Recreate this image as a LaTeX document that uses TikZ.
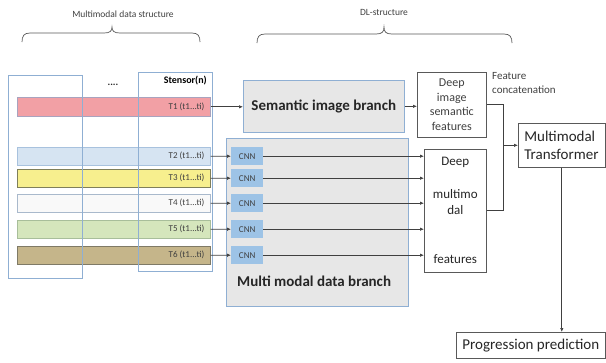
\documentclass[tikz,border=0pt]{standalone}
\usepackage{fontspec}
\setmainfont{Carlito}
\usetikzlibrary{arrows.meta}
\definecolor{txtgray}{HTML}{404040}
\definecolor{txtdark}{HTML}{262626}
\definecolor{colblue}{HTML}{8FAFD3}
\definecolor{boxgray}{HTML}{E7E7E7}
\definecolor{cnnblue}{HTML}{9DC3E6}
\definecolor{linegray}{HTML}{404040}
\definecolor{bracegray}{HTML}{595959}
\definecolor{boxdark}{HTML}{595959}
\definecolor{tafill}{HTML}{F2A0A5}\definecolor{tadraw}{HTML}{A9A3BE}
\definecolor{tbfill}{HTML}{D6E4F2}\definecolor{tbdraw}{HTML}{A8C2DE}
\definecolor{tcfill}{HTML}{F7EF8E}\definecolor{tcdraw}{HTML}{7F7F5A}
\definecolor{tdfill}{HTML}{F9F9F9}\definecolor{tddraw}{HTML}{A9B9CC}
\definecolor{tefill}{HTML}{D5E6BC}\definecolor{tedraw}{HTML}{A8BE9A}
\definecolor{tffill}{HTML}{C5B58A}\definecolor{tfdraw}{HTML}{7F7A66}
\begin{document}
\begin{tikzpicture}[x=1pt,y=-1pt,
  box/.style={draw, anchor=north west, inner sep=0pt, line width=0.6pt},
  bar/.style={box, minimum width=193pt, minimum height=18pt},
  colbox/.style={draw=colblue, anchor=north west, inner sep=0pt, line width=0.7pt, minimum width=74pt},
  cnnbox/.style={anchor=north west, fill=cnnblue, minimum width=32pt, minimum height=18pt, inner sep=0pt, font=\fontsize{9}{11}\selectfont, text=txtgray},
  arr/.style={-{Latex[length=4pt,width=3.5pt]}, draw=linegray, line width=0.7pt},
  plain/.style={draw=linegray, line width=0.7pt},
  tlabel/.style={anchor=east, font=\fontsize{9}{11}\selectfont, text=txtgray, inner sep=0pt},
  bracestyle/.style={draw=bracegray, line width=0.7pt},
  small/.style={font=\fontsize{9.5}{11}\selectfont, text=txtgray, inner sep=0pt}]
\useasboundingbox (0,0) rectangle (606,362);

% brace titles and braces
\node[small] (mdsl) at (123,14) {Multimodal data structure};
\node[small] (dll) at (384,12) {DL-structure};
\draw[bracestyle] (22,42) .. controls (22,36) and (24,33) .. (30,33) -- (104,33) .. controls (110,33) and (112,31) .. (112,27) .. controls (112,31) and (114,33) .. (120,33) -- (192,33) .. controls (198,33) and (200,36) .. (200,42);
\draw[bracestyle] (257,43) .. controls (257,37) and (259,34) .. (265,34) -- (376,34) .. controls (382,34) and (384,32) .. (384,27) .. controls (384,32) and (386,34) .. (392,34) -- (504,34) .. controls (510,34) and (512,37) .. (512,43);

% bars
\node[bar, fill=tafill, draw=tadraw, minimum height=19pt] (T1) at (17,97) {};
\node[bar, fill=tbfill, draw=tbdraw] (T2) at (17,147) {};
\node[bar, fill=tcfill, draw=tcdraw] (T3) at (17,169) {};
\node[bar, fill=tdfill, draw=tddraw] (T4) at (17,194) {};
\node[bar, fill=tefill, draw=tedraw] (T5) at (17,220) {};
\node[bar, fill=tffill, draw=tfdraw] (T6) at (17,246) {};
\foreach \i in {1,...,6}{
  \node[tlabel] (T\i l) at ([xshift=-6pt]T\i.east) {T\i\ (t1...ti)};
}

% tensor columns
\node[colbox, minimum height=203pt] (colA) at (8,75) {};
\node[colbox, minimum height=199pt] (colB) at (138,72) {};
\node[anchor=east, inner sep=0pt, font=\bfseries\fontsize{10}{12}\selectfont, text=black] (stensor) at (207,81) {Stensor(n)};
\node[inner sep=0pt, font=\bfseries\fontsize{10}{12}\selectfont, text=txtdark] (dots) at (113,85) {....};

% branches
\node[box, draw=colblue, fill=boxgray, minimum width=161pt, minimum height=52pt, font=\bfseries\fontsize{15}{18}\selectfont, text=txtdark] (sem) at (243,80) {Semantic image branch};
\node[box, draw=colblue, fill=boxgray, minimum width=182pt, minimum height=168pt] (mb) at (226,138) {};
\node[anchor=west, inner sep=0pt, font=\bfseries\fontsize{15}{18}\selectfont, text=txtdark] (mbl) at (237,281) {Multi modal data branch};

% CNNs
\node[cnnbox] (c2) at (231,147) {CNN};
\node[cnnbox] (c3) at (231,169) {CNN};
\node[cnnbox] (c4) at (231,194) {CNN};
\node[cnnbox] (c5) at (231,220) {CNN};
\node[cnnbox] (c6) at (231,246) {CNN};

% feature boxes
\node[box, draw=boxdark, fill=white, minimum width=69pt, minimum height=65pt, align=center, font=\fontsize{12}{14.5}\selectfont, text=txtgray] (dis) at (417,72) {Deep\\image\\semantic\\features};
\node[anchor=north west, align=left, inner sep=0pt, font=\fontsize{11}{14}\selectfont, text=txtgray] (fc) at (492,72) {Feature\\concatenation};
\node[box, draw=boxdark, fill=white, minimum width=62pt, minimum height=123pt, align=center, font=\fontsize{13}{16}\selectfont, text=txtdark] (dm) at (424,149) {Deep\\[17pt]multimo\\dal\\[33pt]features};
\node[box, draw=boxdark, fill=white, minimum height=44pt, text width=75pt, align=left, inner xsep=6pt, font=\fontsize{15}{18}\selectfont, text=txtdark] (tr) at (518,123) {Multimodal\\Transformer};
\node[box, draw=boxdark, fill=white, minimum width=149pt, minimum height=26pt, font=\fontsize{15}{18}\selectfont, text=txtdark] (pp) at (456,332) {Progression prediction};

% connectors
\draw[arr] (T1.east) -- (T1.east -| sem.west);
\foreach \i in {2,...,6}{
  \draw[arr] (T\i.east) -- (c\i.west);
  \draw[arr] (c\i.east) -- (c\i.east -| dm.west);
}
\draw[arr] (sem.east) -- (sem.east -| dis.west);
\path (tr.west) ++(-15,0) coordinate (j);
\draw[plain] (dis.east) -| (j);
\draw[plain] (dm.east) -| (j);
\draw[arr] (j) -- (tr.west);
\draw[arr] (tr.south) -- (tr.south |- pp.north);
\end{tikzpicture}
\end{document}
